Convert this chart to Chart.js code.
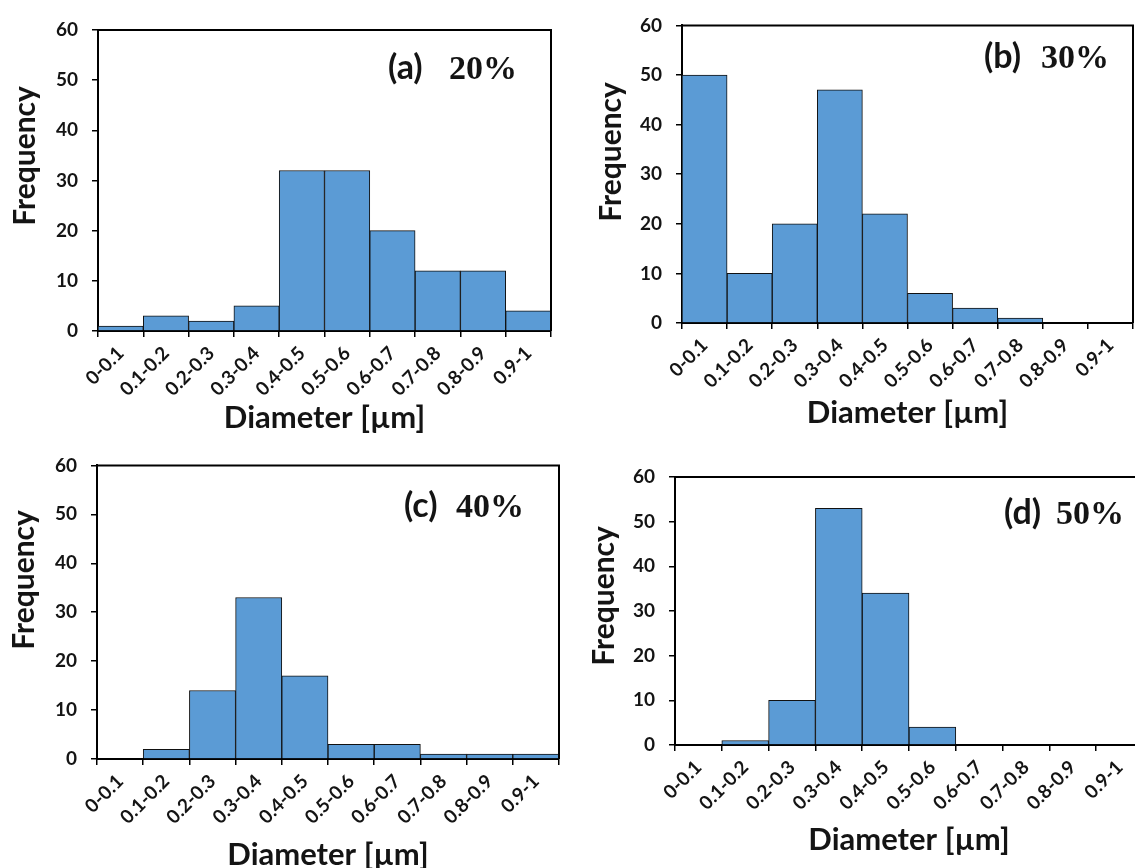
<!DOCTYPE html>
<html>
<head>
<meta charset="utf-8">
<title>Diameter histograms</title>
<script src="https://cdn.jsdelivr.net/npm/chart.js@4.4.1/dist/chart.umd.min.js"></script>
<style>
  html, body { margin: 0; padding: 0; background: #fff; overflow: hidden; width: 1135px; height: 868px; }
  canvas { position: absolute; }
</style>
</head>
<body>
<canvas id="chartA" width="570" height="440" style="left:0;top:0"></canvas>
<canvas id="chartB" width="565" height="440" style="left:570px;top:0"></canvas>
<canvas id="chartC" width="570" height="428" style="left:0;top:440px"></canvas>
<canvas id="chartD" width="580" height="428" style="left:570px;top:440px"></canvas>
<script>
// ==============================
// DATA
// ==============================
const diameterBins = ["0-0.1", "0.1-0.2", "0.2-0.3", "0.3-0.4", "0.4-0.5",
                      "0.5-0.6", "0.6-0.7", "0.7-0.8", "0.8-0.9", "0.9-1"];

const freq20 = [1, 3, 2, 5, 32, 32, 20, 12, 12, 4];
const freq30 = [50, 10, 20, 47, 22, 6, 3, 1, 0, 0];
const freq40 = [0, 2, 14, 33, 17, 3, 3, 1, 1, 1];
const freq50 = [0, 1, 10, 53, 34, 4, 0, 0, 0, 0];

const yTicks = [0, 10, 20, 30, 40, 50, 60];

const panelLetters  = ["(a)", "(b)", "(c)", "(d)"];
const panelPercents = ["20%", "30%", "40%", "50%"];

const xTitleText = "Diameter [µm]";
const yTitleText = "Frequency";

// ==============================
// STYLE
// ==============================
const BAR_FILL = "#5b9bd5";
const INK      = "#141414";
const SANS     = "Lato, 'Open Sans', sans-serif";
const SERIF    = "'Liberation Serif', 'Times New Roman', serif";

// layout per panel (canvas-relative pixels)
const panels = [
  { id: "chartA", data: freq20, pad: { top: 30, right: 19 }, yW: 98,  xH: 109, xTitlePad: 3,
    yTitle: { x: 25, y: 156 }, label: { x1: 388, x2: 449, y: 79 } },
  { id: "chartB", data: freq30, pad: { top: 21, right: 2 },  yW: 112, xH: 117, xTitlePad: 8,
    yTitle: { x: 41, y: 152 }, label: { x1: 414, x2: 471, y: 68 } },
  { id: "chartC", data: freq40, pad: { top: 21, right: 11 }, yW: 97,  xH: 109, xTitlePad: -6,
    yTitle: { x: 24, y: 140 }, label: { x1: 404, x2: 456, y: 77 } },
  { id: "chartD", data: freq50, pad: { top: 37, right: 7 },  yW: 105, xH: 123, xTitlePad: 9,
    yTitle: { x: 34, y: 156 }, label: { x1: 434, x2: 486, y: 84 } }
];

// frame (top/right), rotated y title and the panel label
const panelDecor = {
  id: "panelDecor",
  afterDraw(chart, args, opts) {
    const { ctx, chartArea: a } = chart;
    ctx.save();
    ctx.strokeStyle = "#000";
    ctx.lineWidth = 2;
    ctx.beginPath();
    ctx.moveTo(a.left, a.top);
    ctx.lineTo(a.right, a.top);
    ctx.lineTo(a.right, a.bottom);
    ctx.stroke();

    ctx.fillStyle = INK;
    ctx.textBaseline = "alphabetic";
    ctx.textAlign = "left";
    ctx.font = "bold 34px " + SANS;
    ctx.fillText(opts.letter, opts.label.x1, opts.label.y);
    ctx.font = "bold 34px " + SERIF;
    ctx.fillText(opts.percent, opts.label.x2, opts.label.y);

    ctx.translate(opts.yTitle.x, opts.yTitle.y);
    ctx.rotate(-Math.PI / 2);
    ctx.font = "bold 30px " + SANS;
    ctx.textAlign = "center";
    ctx.textBaseline = "middle";
    ctx.fillText(yTitleText, 0, 0);
    ctx.restore();
  }
};

// ==============================
// CHARTS
// ==============================
panels.forEach((p, i) => {
  new Chart(document.getElementById(p.id), {
    type: "bar",
    data: {
      labels: diameterBins,
      datasets: [{
        data: p.data,
        backgroundColor: BAR_FILL,
        borderColor: "#111",
        borderWidth: 1,
        barPercentage: 1,
        categoryPercentage: 1
      }]
    },
    options: {
      responsive: false,
      animation: false,
      layout: { padding: { top: p.pad.top, right: p.pad.right, left: 0, bottom: 0 } },
      plugins: {
        legend: { display: false },
        tooltip: { enabled: false },
        panelDecor: {
          letter: panelLetters[i],
          percent: panelPercents[i],
          label: p.label,
          yTitle: p.yTitle
        }
      },
      scales: {
        x: {
          offset: true,
          border: { display: true, color: "#000", width: 2 },
          grid: { offset: true, drawOnChartArea: false, drawTicks: true, tickLength: 6, color: "#000", lineWidth: 1.5 },
          ticks: {
            color: INK,
            font: { family: SANS, size: 19, weight: "bold" },
            minRotation: 45,
            maxRotation: 45,
            autoSkip: false,
            padding: 5
          },
          title: {
            display: true,
            text: xTitleText,
            color: INK,
            font: { family: SANS, size: 31, weight: "bold" },
            padding: { top: 0, bottom: p.xTitlePad }
          },
          afterFit(scale) { scale.height = p.xH; }
        },
        y: {
          min: yTicks[0],
          max: yTicks[yTicks.length - 1],
          border: { display: true, color: "#000", width: 2 },
          grid: { drawOnChartArea: false, drawTicks: true, tickLength: 6, color: "#000", lineWidth: 1.5 },
          ticks: {
            stepSize: yTicks[1] - yTicks[0],
            color: INK,
            font: { family: SANS, size: 19, weight: "bold" },
            padding: 14
          },
          afterFit(scale) { scale.width = p.yW; }
        }
      }
    },
    plugins: [panelDecor]
  });
});
</script>
</body>
</html>
